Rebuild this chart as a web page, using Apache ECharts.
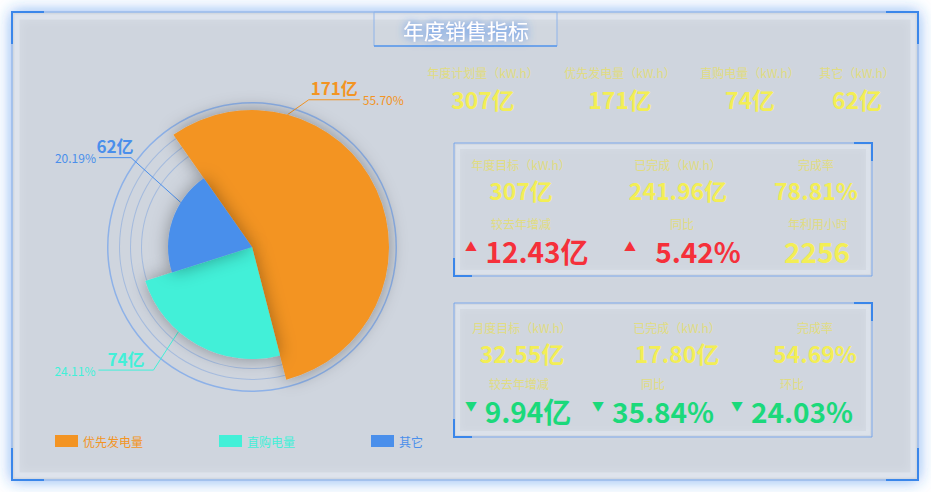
<!DOCTYPE html>
<html>
<head>
<meta charset="utf-8">
<style>
html, body { margin: 0; padding: 0; background: #fff; }
#box1 { width: 931px; height: 492px; }
</style>
<script src="https://cdn.jsdelivr.net/npm/echarts@6/dist/echarts.min.js"></script>
</head>
<body>
<div id="box1"></div>
<script>
// pie data
var names = ['优先发电量', '直购电量', '其它'];
var values = [171, 74, 62];
var pctLabels = ['55.70%', '24.11%', '20.19%'];

// stats
var topLabels = ['年度计划量（kW.h）', '优先发电量（kW.h）', '直购电量（kW.h）', '其它（kW.h）'];
var yearLabels1 = ['年度目标（kW.h）', '已完成（kW.h）', '完成率'];
var yearValues1 = ['307亿', '241.96亿', '78.81%'];
var yearLabels2 = ['较去年增减', '同比', '年利用小时'];
var yearValues2 = ['12.43亿', '5.42%', '2256'];
var yearTrend2 = ['up', 'up', ''];
var monthLabels1 = ['月度目标（kW.h）', '已完成（kW.h）', '完成率'];
var monthValues1 = ['32.55亿', '17.80亿', '54.69%'];
var monthLabels2 = ['较去年增减', '同比', '环比'];
var monthValues2 = ['9.94亿', '35.84%', '24.03%'];
var monthTrend2 = ['down', 'down', 'down'];

window.onload = function () {
    var colors = ['#f39423', '#42f0d8', '#4a8feb'];
    var font = '"Noto Sans CJK SC", "Microsoft YaHei", sans-serif';
    var center = [252, 247];
    var sliceR = [137, 112, 84];
    var ringR = [145, 133, 122, 111];
    // label line: anchor angle on the slice, direction and length of first segment, length of second
    var labelAngle = [75, 229, 148];
    var segAngle = [35, 237, 138];
    var len1 = [26, 46, 67];
    var len2 = [51, 55, 32];

    var myChart = echarts.init(document.getElementById('box1'), null, { renderer: 'svg' });

    var total = values.reduce(function (s, v) { return s + v; }, 0);
    var topValues = [total + '亿'].concat(values.map(function (v) { return v + '亿'; }));

    var series = [];
    ringR.forEach(function (r, k) {
        series.push({
            type: 'pie', center: center, radius: [r - (k === 0 ? 1.5 : 1), r],
            silent: true, z: 1, label: { show: false }, labelLine: { show: false },
            emphasis: { disabled: true },
            itemStyle: { color: k === 0 ? '#8db1e8' : 'rgba(150,178,222,0.75)', borderWidth: 0 },
            data: [{ value: 1 }]
        });
    });

    names.forEach(function (n, i) {
        var left = Math.cos(labelAngle[i] * Math.PI / 180) < 0;
        var rich = {
            v: { fontSize: 17, fontWeight: 'bold', color: colors[i], width: len2[i], align: 'center', padding: [0, 0, 24, 0], fontFamily: font },
            p: { fontSize: 12, color: colors[i], padding: left ? [0, 3, 0, 0] : [0, 0, 0, 3], fontFamily: font }
        };
        series.push({
            type: 'pie',
            name: n,
            center: center,
            radius: [0, sliceR[i]],
            startAngle: 125,
            clockwise: true,
            avoidLabelOverlap: false,
            z: 3,
            emphasis: { disabled: true },
            data: names.map(function (m, j) {
                return {
                    name: m,
                    value: values[j],
                    itemStyle: j === i
                        ? { color: colors[j], borderWidth: 0, shadowBlur: 18, shadowColor: 'rgba(0,0,0,0.35)' }
                        : { color: 'rgba(0,0,0,0)', borderWidth: 0 },
                    label: { show: j === i },
                    labelLine: { show: j === i }
                };
            }),
            label: {
                formatter: function () {
                    var v = '{v|' + values[i] + '亿}';
                    var p = '{p|' + pctLabels[i] + '}';
                    return left ? p + v : v + p;
                },
                rich: rich
            },
            labelLine: { lineStyle: { color: colors[i], width: 1 } },
            labelLayout: function (params) {
                if (params.dataIndex !== i) return {};
                var a = labelAngle[i] * Math.PI / 180;
                var s = segAngle[i] * Math.PI / 180;
                var ax = center[0] + sliceR[i] * Math.cos(a), ay = center[1] - sliceR[i] * Math.sin(a);
                var bx = ax + len1[i] * Math.cos(s), by = ay - len1[i] * Math.sin(s);
                var ex = bx + (left ? -len2[i] : len2[i]);
                return {
                    x: bx, y: by,
                    align: left ? 'right' : 'left',
                    verticalAlign: 'middle',
                    labelLinePoints: [[ax, ay], [bx, by], [ex, by]]
                };
            }
        });
    });

    // frame and texts
    var g = [];
    function txt(x, y, s, size, color, bold) {
        return {
            type: 'text', x: x, y: y, z: 5,
            style: {
                text: s, fill: color, fontSize: size, fontWeight: bold ? 'bold' : 'normal', fontFamily: font,
                align: 'center', textAlign: 'center', verticalAlign: 'middle', textVerticalAlign: 'middle'
            }
        };
    }
    function corners(x, y, w, h, l, which) {
        var pts = {
            tl: [[x, y + l], [x, y], [x + l, y]],
            tr: [[x + w - l, y], [x + w, y], [x + w, y + l]],
            bl: [[x, y + h - l], [x, y + h], [x + l, y + h]],
            br: [[x + w - l, y + h], [x + w, y + h], [x + w, y + h - l]]
        };
        which.forEach(function (c) {
            g.push({ type: 'polyline', z: 3, shape: { points: pts[c] }, style: { stroke: '#3a86ea', lineWidth: 2, fill: null } });
        });
    }
    g.push({ type: 'rect', z: 0, shape: { x: 12, y: 12, width: 906, height: 468 },
        style: { fill: '#cfd5de', stroke: '#8fb4ea', lineWidth: 1.5, shadowBlur: 16, shadowColor: 'rgba(45,125,235,0.6)' } });
    g.push({ type: 'rect', z: 0, shape: { x: 17, y: 17, width: 896, height: 458 },
        style: { fill: null, stroke: 'rgba(235,240,248,0.45)', lineWidth: 5, shadowBlur: 8, shadowColor: 'rgba(240,245,255,0.7)' } });
    corners(12, 12, 906, 468, 32, ['tl', 'tr', 'bl', 'br']);

    g.push({ type: 'rect', z: 1, shape: { x: 374, y: 12, width: 183, height: 34 },
        style: { fill: 'rgba(255,255,255,0.05)', stroke: '#8fb4ea', lineWidth: 1 } });
    g.push({ type: 'line', z: 2, shape: { x1: 374, y1: 46, x2: 557, y2: 46 }, style: { stroke: '#5a98ea', lineWidth: 1.5 } });
    var title = txt(466, 30, '年度销售指标', 21, '#ffffff', false);
    title.style.textShadowBlur = 8;
    title.style.textShadowColor = '#3a84f0';
    title.style.shadowBlur = 8;
    title.style.shadowColor = '#3a84f0';
    g.push(title);

    var labelColor = '#e1dc82';
    var yellow = '#f3ee55';
    var red = '#f5303a';
    var green = '#1bd97b';

    var topX = [483, 620, 750, 857];
    topLabels.forEach(function (s, k) {
        g.push(txt(topX[k], 72, s, 12, labelColor, false));
        g.push(txt(topX[k], 99, topValues[k], 23, yellow, true));
    });

    function panel(x, y, w, h) {
        g.push({ type: 'rect', z: 1, shape: { x: x, y: y, width: w, height: h },
            style: { fill: 'rgba(255,255,255,0.04)', stroke: 'rgba(110,160,235,0.9)', lineWidth: 1 } });
        g.push({ type: 'rect', z: 1, shape: { x: x + 4, y: y + 4, width: w - 8, height: h - 8 },
            style: { fill: null, stroke: 'rgba(235,240,248,0.35)', lineWidth: 4, shadowBlur: 6, shadowColor: 'rgba(240,245,255,0.6)' } });
        corners(x, y, w, h, 18, ['tr', 'bl']);
    }

    function trendColor(t) { return t === 'up' ? red : (t === 'down' ? green : yellow); }

    // yearly box
    panel(454, 143, 418, 133);
    var c1 = [521, 678, 816];
    yearLabels1.forEach(function (s, k) {
        g.push(txt(c1[k], 164, s, 12, labelColor, false));
        g.push(txt(c1[k], 190, yearValues1[k], 23, yellow, true));
    });
    var l2 = [521, 682, 818];
    var a2 = [471, 630, 0];
    var v2 = [537, 698, 817];
    yearLabels2.forEach(function (s, k) {
        g.push(txt(l2[k], 223, s, 12, labelColor, false));
        if (yearTrend2[k]) g.push(txt(a2[k], 246, yearTrend2[k] === 'up' ? '▲' : '▼', 12, trendColor(yearTrend2[k]), false));
        g.push(txt(v2[k], 251, yearValues2[k], 28, trendColor(yearTrend2[k]), true));
    });

    // monthly box
    panel(454, 303, 418, 134);
    var m1 = [522, 677, 815];
    monthLabels1.forEach(function (s, k) {
        g.push(txt(m1[k], 327, s, 12, labelColor, false));
        g.push(txt(m1[k], 353, monthValues1[k], 23, yellow, true));
    });
    var ml2 = [519, 653, 792];
    var ma2 = [471, 598, 737];
    var mv2 = [528, 663, 802];
    monthLabels2.forEach(function (s, k) {
        g.push(txt(ml2[k], 383, s, 12, labelColor, false));
        g.push(txt(ma2[k], 405, monthTrend2[k] === 'up' ? '▲' : '▼', 12, trendColor(monthTrend2[k]), false));
        g.push(txt(mv2[k], 411, monthValues2[k], 28, trendColor(monthTrend2[k]), true));
    });

    var option = {
        backgroundColor: '#ffffff',
        animation: false,
        graphic: { elements: g },
        legend: {
            left: 50, top: 430,
            icon: 'rect', itemWidth: 23, itemHeight: 12, itemGap: 76,
            selectedMode: false,
            textStyle: { fontSize: 12, fontFamily: font },
            data: names.map(function (n, i) {
                return { name: n, itemStyle: { color: colors[i] }, textStyle: { color: colors[i] } };
            })
        },
        series: series
    };
    myChart.setOption(option);
    window.addEventListener('resize', function () {
        myChart.resize();
    });
};
</script>
</body>
</html>
